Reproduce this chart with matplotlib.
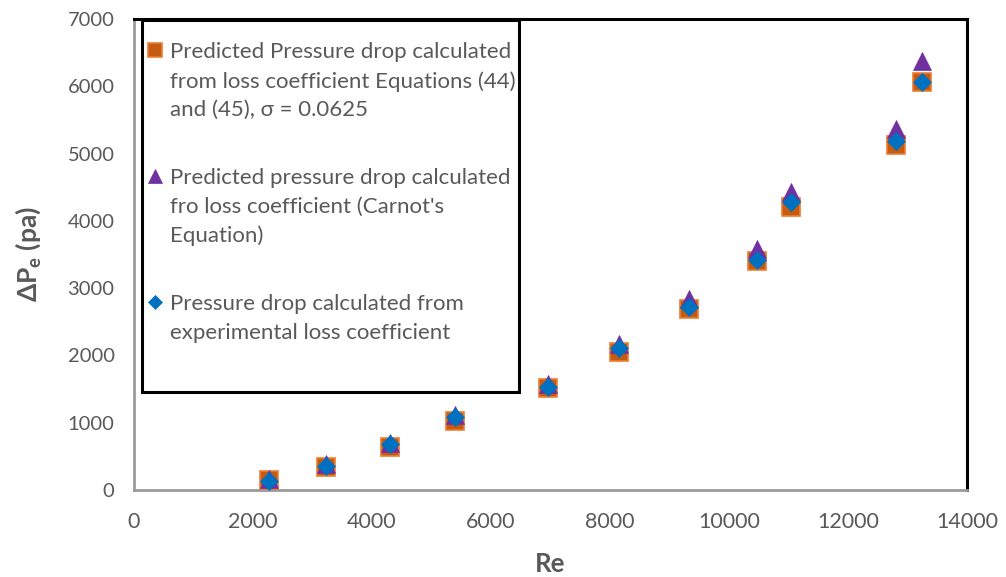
import matplotlib
matplotlib.use("Agg")
import matplotlib.pyplot as plt
from matplotlib.patches import Rectangle

# Reynolds number of each test point
re_values = [2270, 3230, 4310, 5390, 6960, 8150, 9330, 10470, 11050, 12800, 13250]

# Pressure drop (Pa) for the three methods
dp_equations = [150, 346, 643, 1030, 1510, 2055, 2685, 3400, 4210, 5126, 6060]
dp_carnot = [170, 390, 700, 1110, 1580, 2170, 2840, 3580, 4430, 5370, 6380]
dp_experimental = [134, 361, 683, 1090, 1535, 2105, 2715, 3418, 4284, 5190, 6070]

labels = [
    "Predicted Pressure drop calculated\nfrom loss coefficient Equations (44)\nand (45), \u03c3 = 0.0625",
    "Predicted pressure drop calculated\nfro loss coefficient (Carnot's\nEquation)",
    "Pressure drop calculated from\nexperimental loss coefficient",
]

x_ticks = [0, 2000, 4000, 6000, 8000, 10000, 12000, 14000]
y_ticks = [0, 1000, 2000, 3000, 4000, 5000, 6000, 7000]

W, H = 1006, 577
grey = "#595959"
plt.rcParams["font.family"] = ["Lato", "DejaVu Sans"]
plt.rcParams["mathtext.default"] = "regular"

fig = plt.figure(figsize=(W / 100, H / 100), dpi=100)
ax = fig.add_axes([134 / W, (H - 490) / H, (967 - 134) / W, (490 - 19) / H])

ms = 12.5
h1, = ax.plot(re_values, dp_equations, linestyle="none", marker="s", markersize=ms,
              markerfacecolor="#C55A11", markeredgecolor="#ED7D31", markeredgewidth=1.2,
              zorder=3)
h2, = ax.plot(re_values, dp_carnot, linestyle="none", marker="^", markersize=ms,
              markerfacecolor="#7030A0", markeredgecolor="#7030A0", markeredgewidth=0.5,
              zorder=4)
h3, = ax.plot(re_values, dp_experimental, linestyle="none", marker="D", markersize=ms * 0.72,
              markerfacecolor="#0070C0", markeredgecolor="#0070C0", markeredgewidth=0.5,
              zorder=5)

ax.set_xlim(0, 14000)
ax.set_ylim(0, 7000)
ax.set_xticks(x_ticks)
ax.set_yticks(y_ticks)
ax.tick_params(axis="both", length=0, labelcolor=grey)
ax.tick_params(axis="x", pad=16, labelsize=15.5)
ax.tick_params(axis="y", pad=14, labelsize=14.5)

for side in ("top", "right"):
    ax.spines[side].set_color("black")
    ax.spines[side].set_linewidth(2.2)
for side in ("left", "bottom"):
    ax.spines[side].set_color("#9A9A9A")
    ax.spines[side].set_linewidth(2.0)

ax.set_xlabel("Re", fontsize=18.5, fontweight="bold", color=grey, labelpad=14)
ax.set_ylabel("\u0394P$_{e}$ (pa)", fontsize=19, fontweight="bold", color=grey, labelpad=18)

# Legend frame
frame = Rectangle((142 / W, (H - 392) / H), (519 - 142) / W, (392 - 20) / H,
                  transform=fig.transFigure, facecolor="white", edgecolor="black",
                  linewidth=2.2, zorder=6)
fig.add_artist(frame)

leg = fig.legend([h1, h2, h3], labels, loc="upper left",
                 bbox_to_anchor=(147 / W, (H - 42) / H), bbox_transform=fig.transFigure,
                 frameon=False, fontsize=16, labelcolor=grey, handlelength=0.75,
                 handletextpad=0.3, labelspacing=2.15, markerscale=0.82,
                 borderaxespad=0, borderpad=0)
leg.set_zorder(7)
for txt in leg.get_texts():
    txt.set_linespacing(1.54)
for column in leg._legend_handle_box.get_children():
    for row in column.get_children():
        row.align = "top"

fig.savefig("out.png", dpi=100, facecolor="white")
